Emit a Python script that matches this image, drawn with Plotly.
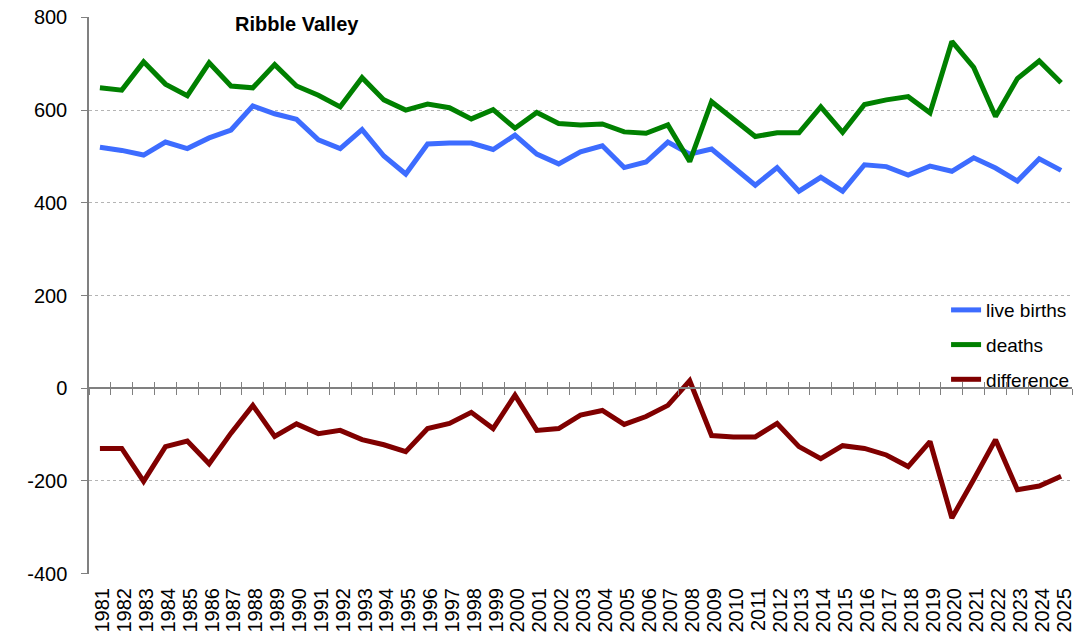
import plotly.graph_objects as go

years = [str(y) for y in range(1981, 2026)]

births = [520, 513, 503, 531, 517, 540, 557, 609, 592, 580, 536, 517, 558, 501, 462,
          527, 529, 529, 515, 546, 505, 484, 510, 523, 476, 488, 531, 505, 516, 478,
          438, 476, 425, 455, 425, 482, 478, 460, 479, 468, 497, 475, 447, 495, 470]

deaths = [648, 643, 704, 656, 631, 702, 652, 648, 698, 652, 632, 607, 670, 622, 600,
          613, 605, 581, 601, 561, 595, 571, 568, 570, 553, 550, 568, 489, 618, 582,
          543, 551, 551, 607, 552, 612, 622, 629, 594, 748, 692, 586, 668, 706, 659]

difference = [-130, -130, -201, -126, -114, -163, -97, -37, -104, -77, -98, -91, -111, -122, -137,
              -87, -76, -52, -87, -15, -91, -87, -58, -48, -78, -61, -37, 16, -102, -105,
              -105, -76, -126, -152, -124, -130, -144, -169, -115, -280, -197, -111, -219, -211, -190]

y_ticks = [-400, -200, 0, 200, 400, 600, 800]
y_labels = ["-400", "-200", "0", "200", "400", "600", "800"]

axis_grey = "#808080"
font = "Liberation Sans, Arial, sans-serif"

fig = go.Figure()
fig.add_trace(go.Scatter(x=years, y=births, name="live births", mode="lines",
                         line=dict(color="#3d6cff", width=5), legendgroup="a"))
fig.add_trace(go.Scatter(x=years, y=deaths, name="deaths", mode="lines",
                         line=dict(color="#008000", width=5), legendgroup="b"))
fig.add_trace(go.Scatter(x=years, y=difference, name="difference", mode="lines",
                         line=dict(color="#800000", width=5), legendgroup="c"))

# invisible traces so the zero-line axes (crossing ticks) get drawn
for ax in ["x2", "x3"]:
    fig.add_trace(go.Scatter(x=years, y=difference, xaxis=ax, mode="lines",
                             line=dict(width=0), showlegend=False, hoverinfo="skip"))

fig.update_layout(
    width=1086, height=644,
    margin=dict(l=89, r=13, t=17, b=70),
    plot_bgcolor="white", paper_bgcolor="white",
    font=dict(family=font, size=19, color="black"),
    showlegend=True,
    legend=dict(x=0.871, y=0.508, xanchor="left", yanchor="top",
                font=dict(size=19), bgcolor="rgba(0,0,0,0)",
                tracegroupgap=7, traceorder="grouped"),
    xaxis=dict(type="category", showline=False, ticks="", showgrid=False, automargin=False,
               tickangle=-90, tickfont=dict(size=20), range=[-0.5, 44.5],
               tickmode="linear", dtick=1, ticklabelstandoff=9, ticklabelshift=3),
    xaxis2=dict(type="category", overlaying="x", matches="x", anchor="free", position=1/3,
                showline=True, linecolor=axis_grey, linewidth=1.5, automargin=False,
                ticks="outside", ticklen=6, tickcolor=axis_grey, tickson="boundaries",
                showticklabels=False, showgrid=False),
    xaxis3=dict(type="category", overlaying="x", matches="x", anchor="free", position=1/3,
                showline=False, ticks="inside", ticklen=6, tickcolor=axis_grey, automargin=False,
                tickson="boundaries", showticklabels=False, showgrid=False),
    yaxis=dict(range=[-400.8, 800.8], tickmode="array", tickvals=y_ticks, ticktext=y_labels,
               showline=True, linecolor=axis_grey, linewidth=1.5, automargin=False,
               ticks="outside", ticklen=6, tickcolor=axis_grey, zeroline=False,
               showgrid=True, gridcolor="#b4b4b4", griddash="dot", gridwidth=1,
               tickfont=dict(size=20), ticklabelstandoff=10, ticklabeloverflow="allow"),
    annotations=[dict(text="<b>Ribble Valley</b>", x=0.2114, y=0.987, xref="paper", yref="paper",
                      xanchor="center", yanchor="middle", showarrow=False,
                      font=dict(size=20, family=font), bgcolor="white", borderpad=4)],
)

# drop the default 8px page margin so the figure sits at the window corner
fig.write_html("out.html", config={"displayModeBar": False},
               post_script="document.body.style.margin='0';")
